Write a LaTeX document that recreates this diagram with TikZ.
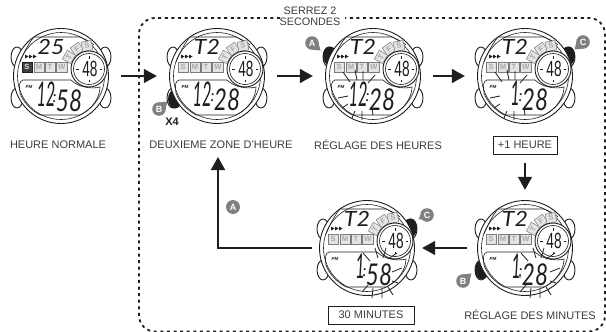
\documentclass[tikz,border=0pt]{standalone}
\usepackage{fontspec}
\usepackage{graphicx}
\setmainfont{Liberation Sans}
\newfontfamily\lcdfont{Lato Italic}
\usetikzlibrary{arrows.meta,calc}
\definecolor{ink}{HTML}{1E1E1E}
\definecolor{labelgray}{HTML}{3C3C3C}
\definecolor{btngray}{HTML}{808080}
\definecolor{cellgray}{HTML}{E4E4E4}
\definecolor{cellline}{HTML}{7C7C7C}
\definecolor{celltext}{HTML}{A8A8A8}
\tikzset{
  anchorzone/.style={circle,inner sep=0pt,minimum size=120pt},
  flow/.style={ink,line width=1.6pt,-{Triangle[length=13pt,width=14pt]}},
  wlabel/.style={text=labelgray,font=\fontsize{11}{11}\selectfont,inner sep=0pt},
  boxed/.style={wlabel,draw=ink,line width=.9pt,minimum height=18pt,align=center},
  framedash/.style={ink,line width=1.8pt,dash pattern=on 3pt off 3.6pt,rounded corners=16pt},
  wcase/.style={draw=ink,line width=.9pt,fill=white},
  fineline/.style={draw=ink,line width=.6pt},
  cell/.style={draw=cellline,line width=.5pt,fill=cellgray,text=celltext,inner sep=0pt,minimum width=10pt,minimum height=9.5pt,font=\fontsize{7.5}{7.5}\selectfont\bfseries},
  dcell/.style={cell,fill=ink!85,draw=ink,text=cellgray},
  ray/.style={draw=ink,line width=.8pt},
  digit/.style={text=ink,inner sep=0pt}
}
\newcommand{\lcd}[3]{{\lcdfont\fontsize{#1}{#1}\selectfont\scalebox{#2}[1]{#3}}}
% #1 centre, #2 top text, #3 hour position, #4 hour, #5 minute position, #6 minute, #7 first-cell style, #8 extras behind, #9 extras front
\newcommand{\watch}[9]{
  \begin{scope}[shift={(#1)}]
    \foreach \ex/\ey in {-44/-19,44/-19,-44/22,44/22}
      \draw[wcase] (\ex,\ey) ellipse[x radius=6pt,y radius=10pt];
    #8
    \draw[wcase] (0,0) circle[radius=47.5pt];
    \draw[fineline] (0,0) circle[radius=43.5pt];
    % upper display outline
    \draw[fineline] (-41,-14) .. controls (-36,-26) and (-32,-33) .. (-27,-39) -- (19,-39) .. controls (24,-37) and (30,-34) .. (33,-31);
    % week cells
    \node[#7] at (-34,-9) {S};
    \node[cell] at (-22,-9) {M};
    \node[cell] at (-11,-9) {T};
    \node[cell,minimum width=11pt] at (1,-9) {W};
    \node[cell,rotate=60] at (8,-19) {T};
    \node[cell,rotate=35] at (16,-27) {F};
    \node[cell,rotate=10] at (26,-30) {S};
    \foreach \mx in {-36,-32,-28}
      \fill[ink] (\mx,-21.5) -- (\mx+3.5,-19.5) -- (\mx,-17.5) -- cycle;
    % lower display outline
    \draw[fineline] (-38,4) -- (10,4) .. controls (18,12) and (32,13) .. (39,11)
      .. controls (39,20) and (33,32) .. (19,39) -- (-21,39)
      .. controls (-30,34) and (-38,26) .. (-41,17) .. controls (-42,10) and (-42,5) .. (-38,4);
    % small dial
    \draw[wcase] (28,-7) circle[radius=18pt];
    \draw[fineline] (28,-7) circle[radius=15.5pt];
    \foreach \tx/\ty/\ux/\uy in {28/-20/0/1,28/6/0/-1,15/-7/1/0,41/-7/-1/0}
      \draw[ink,line width=.9pt] (\tx,\ty) -- ++(2.5*\ux,2.5*\uy);
    \node[digit,font=\fontsize{22}{22}\selectfont] at (29,-7) {\scalebox{.62}[1]{48}};
    \node[digit] at (-10,-29) {\lcd{21}{1.1}{#2}};
    \node[digit,font=\fontsize{4.5}{4.5}\selectfont\bfseries\itshape] at (-32,11) {PM};
    \node[digit] at (#3) {\lcd{34}{.48}{#4}};
    \node[digit] (mn) at (#5) {\lcd{30}{.75}{#6}};
    \node[digit,anchor=east] at ($(mn.west)+(1,-2)$) {\lcd{16}{1}{:}};
    #9
  \end{scope}
}
\newcommand{\btnmark}[4]{
  \begin{scope}[shift={(#1)}]
    \fill[btngray] (0,0) circle[radius=6.8pt];
    \begin{scope}[xscale=#3,yscale=#4]
      \fill[btngray] (8.5,7.5) -- (6.5,0) -- (0,6.5) -- cycle;
    \end{scope}
    \node[text=white,inner sep=0pt,font=\fontsize{9}{9}\selectfont\bfseries] at (0,0) {#2};
  \end{scope}
}
\newcommand{\raysthree}{
  \draw[ray] (-30,-4)--(-23,6) (-18,-6)--(-16,4) (-10,-5)--(-10,4) (2,-1)--(-5,7)
    (-31,32)--(-25,28) (-21,42)--(-18,35) (-11,44)--(-11,35) (0,39)--(-1,32) (-35,22)--(-25,20);
}
\newcommand{\raysfive}{
  \draw[ray] (8,0)--(11,10) (19,0)--(16,10) (30,5)--(21,11)
    (-5,44)--(1,37) (5,50)--(6,40) (15,50)--(15,40) (26,47)--(21,39) (31,35)--(25,33)
    (25,24)--(35,20) (-4,5)--(3,13) (-9,29)--(-4,29);
}
\begin{document}
\begin{tikzpicture}[x=1pt,y=-1pt]
\useasboundingbox (0,0) rectangle (606,332);
% dashed frame
\draw[framedash] (280,18) -- (139,18) -- (139,331.5) -- (605,331.5) -- (605,18) -- (345,18);
% watches
\watch{61,76}{25}{-15,18}{12}{8,25}{58}{dcell}{}{}
\watch{217,76}{T2}{-15,18}{12}{10,24}{28}{cell}{\fill[ink] (-42,23) ellipse[x radius=7pt,y radius=9.5pt];}{}
\watch{373,76}{T2}{-15,18}{12}{9,24}{28}{cell}{\fill[ink] (-43,-20) ellipse[x radius=7pt,y radius=9.5pt];}{\raysthree}
\watch{525,76}{T2}{-10,17}{1}{10,24}{28}{cell}{\fill[ink] (43,-20) ellipse[x radius=7pt,y radius=9.5pt];}{\raysthree}
\watch{525,248}{T2}{-9,18}{1}{10,27}{28}{cell}{\fill[ink] (-43,22) ellipse[x radius=7pt,y radius=9.5pt];}{\raysfive}
\watch{367,248}{T2}{-7,18}{1}{12,27}{58}{cell}{\fill[ink] (43,-20) ellipse[x radius=7pt,y radius=9.5pt];}{\raysfive}
% invisible anchors round the watches
\node[anchorzone] (w1) at (61,76) {};
\node[anchorzone] (w2) at (217,76) {};
\node[anchorzone] (w3) at (373,76) {};
\node[anchorzone] (w4) at (525,76) {};
\node[anchorzone,minimum size=116pt] (w5) at (525,248) {};
\node[anchorzone,minimum size=110pt] (w6) at (367,248) {};
% labels
\node[wlabel] (l1) at (58,145) {HEURE NORMALE};
\node[wlabel] (l2) at (221,145) {DEUXIEME ZONE D'HEURE};
\node[wlabel] (l3) at (378,145) {RÉGLAGE DES HEURES};
\node[boxed,minimum width=64pt] (l4) at (525,145) {+1 HEURE};
\node[wlabel] (l5) at (530,315) {RÉGLAGE DES MINUTES};
\node[boxed,minimum width=86pt] (l6) at (371,315) {30 MINUTES};
\node[wlabel,align=center,font=\fontsize{10.8}{11}\selectfont] (hold) at (310,16.5) {SERREZ 2\\SECONDES};
\node[text=ink,inner sep=0pt,font=\fontsize{11}{11}\selectfont\bfseries] (x4) at (172,122) {X4};
% button marks
\btnmark{159,109}{B}{1}{-1}
\btnmark{312,43}{A}{1}{1}
\btnmark{583,42}{C}{-1}{1}
\btnmark{463,281}{B}{1}{-1}
\btnmark{427,215}{C}{-1}{.6}
\fill[btngray] (233,207) circle[radius=7pt];
\node[text=white,inner sep=0pt,font=\fontsize{9}{9}\selectfont\bfseries] (markA) at (233,207) {A};
% connectors
\coordinate (cornerA) at (218,248);
\coordinate (tipA) at (218,157);
\draw[flow] (w1.east) -- (w2.west);
\draw[flow] (w2.east) -- (w3.west);
\draw[flow] (w3.east) -- (w4.west);
\draw[flow,shorten <=9pt] (l4.south) -- (w5.north);
\draw[flow] (w5.west) -- (w6.east |- w5.west);
\draw[flow,line width=2pt] (w6.west) -- (cornerA) -- (tipA);
\end{tikzpicture}
\end{document}
